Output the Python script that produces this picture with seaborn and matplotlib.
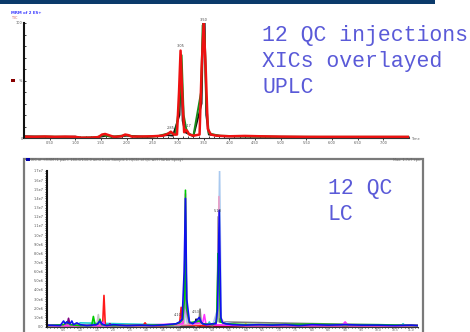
import matplotlib
matplotlib.use("Agg")
import matplotlib.pyplot as plt
import seaborn as sns
from matplotlib.ticker import MultipleLocator

# ---- UPLC panel (relative intensity %, time in min) ----
uplc_red_t = [0.0, 0.2, 0.4, 0.6, 0.8, 1.0, 1.1, 1.3, 1.45, 1.52, 1.58, 1.65, 1.75, 1.9, 1.97, 2.03, 2.1, 2.3, 2.5,
              2.7, 2.8, 2.86, 2.92, 2.98, 3.02, 3.05, 3.08, 3.12, 3.15, 3.18, 3.22, 3.3, 3.42, 3.46, 3.5, 3.54,
              3.58, 3.64, 3.75, 4.0, 4.3, 4.6, 5.0, 5.5, 6.0, 6.5, 7.0, 7.5]
uplc_red_v = [1.2, 1.0, 1.3, 1.0, 1.2, 1.0, 0.3, 0.3, 0.8, 3.0, 3.5, 2.5, 1.0, 1.5, 3.0, 2.5, 1.2, 1.3, 1.5,
              2.0, 3.5, 5.5, 3.0, 3.0, 40.0, 76.0, 40.0, 5.0, 7.0, 6.0, 3.0, 2.0, 3.0, 60.0, 100.0, 60.0,
              8.0, 3.0, 2.0, 1.5, 1.8, 1.5, 1.2, 1.0, 1.0, 1.0, 1.0, 1.0]
uplc_green_t = [0.0, 0.5, 1.0, 1.1, 1.4, 1.55, 1.7, 2.0, 2.2, 2.6, 2.85, 2.95, 3.03, 3.07, 3.11, 3.16, 3.2,
                3.3, 3.45, 3.48, 3.52, 3.55, 3.6, 3.8, 4.2, 5.0, 6.0, 7.0, 7.5]
uplc_green_v = [1.0, 1.2, 0.8, 0.2, 0.5, 2.5, 1.0, 2.5, 1.0, 1.5, 4.5, 3.0, 30.0, 72.0, 20.0, 8.0, 4.0,
                2.0, 40.0, 98.0, 90.0, 30.0, 4.0, 2.0, 1.5, 1.0, 1.0, 1.0, 1.0]
uplc_black_t = [0.0, 0.6, 1.0, 1.1, 1.4, 1.6, 1.8, 2.0, 2.4, 2.8, 2.9, 3.03, 3.06, 3.09, 3.14, 3.3, 3.46,
                3.49, 3.52, 3.55, 3.6, 3.9, 4.5, 5.5, 6.5, 7.5]
uplc_black_v = [1.5, 1.0, 1.2, 0.2, 0.4, 2.0, 1.0, 2.0, 1.0, 2.5, 2.0, 20.0, 65.0, 15.0, 5.0, 1.5, 30.0,
                100.0, 100.0, 20.0, 3.0, 1.5, 1.2, 1.0, 0.8, 0.8]

uplc_xticks = [0.5, 1.0, 1.5, 2.0, 2.5, 3.0, 3.5, 4.0, 4.5, 5.0, 5.5, 6.0, 6.5, 7.0]
uplc_xlabels = ["0.50", "1.00", "1.50", "2.00", "2.50", "3.00", "3.50", "4.00", "4.50", "5.00", "5.50",
                "6.00", "6.50", "7.00"]

# ---- LC panel (intensity in 1e6 cps, time in min) ----
lc_blue_t = [0.0, 0.4, 0.5, 0.55, 0.6, 0.7, 0.75, 0.8, 0.9, 1.0, 1.2, 1.5, 1.6, 1.65, 1.7, 1.8, 2.0, 2.4, 2.8,
             3.2, 3.6, 3.9, 4.0, 4.08, 4.14, 4.18, 4.22, 4.3, 4.4, 4.5, 4.6, 4.65, 4.7, 4.8, 5.0, 5.1, 5.15,
             5.2, 5.25, 5.3, 5.4, 5.6, 6.0, 6.4, 6.8, 7.2, 7.6, 8.0, 8.5, 9.0, 9.5, 10.0, 10.5, 11.0, 11.2]
lc_blue_v = [0.15, 0.1, 0.6, 0.3, 0.5, 0.3, 0.6, 0.2, 0.4, 0.2, 0.1, 0.2, 0.6, 0.3, 0.2, 0.1, 0.2, 0.1, 0.15,
             0.1, 0.2, 0.3, 0.5, 0.8, 6.0, 14.0, 3.0, 0.5, 0.3, 0.6, 1.0, 0.5, 0.3, 0.2, 0.3, 0.3, 2.0,
             12.7, 1.0, 0.4, 0.3, 0.2, 0.15, 0.2, 0.15, 0.2, 0.1, 0.2, 0.15, 0.2, 0.15, 0.15, 0.1, 0.15, 0.1]
lc_green_t = [0.0, 0.5, 0.6, 0.7, 1.0, 1.35, 1.4, 1.45, 1.55, 1.6, 1.65, 2.0, 3.0, 3.8, 4.0, 4.1, 4.15, 4.18,
              4.21, 4.3, 4.6, 4.7, 5.0, 5.12, 5.17, 5.2, 5.24, 5.4, 6.0, 7.0, 8.0, 9.0, 10.0, 11.2]
lc_green_v = [0.1, 0.2, 0.5, 0.2, 0.1, 0.1, 1.1, 0.2, 0.3, 0.8, 0.2, 0.1, 0.15, 0.2, 0.4, 0.8, 3.0, 14.9,
              2.0, 0.4, 0.6, 0.3, 0.2, 0.5, 8.0, 6.0, 0.5, 0.3, 0.2, 0.2, 0.25, 0.2, 0.2, 0.1]
lc_magenta_t = [0.0, 1.0, 1.65, 1.7, 1.75, 2.5, 4.1, 4.15, 4.18, 4.21, 4.3, 4.7, 4.75, 4.8, 6.0, 8.0, 8.9,
                9.0, 9.1, 11.2]
lc_magenta_v = [0.1, 0.1, 0.1, 0.5, 0.1, 0.1, 0.3, 3.0, 14.5, 1.5, 0.3, 0.4, 1.3, 0.2, 0.1, 0.1, 0.1,
                0.5, 0.1, 0.1]
lc_pink_t = [0.0, 3.0, 5.1, 5.16, 5.19, 5.22, 5.4, 11.2]
lc_pink_v = [0.1, 0.1, 0.3, 3.0, 14.2, 1.0, 0.2, 0.1]
lc_red_t = [0.0, 1.6, 1.68, 1.72, 1.76, 2.0, 2.9, 2.96, 3.02, 3.5, 4.0, 4.05, 4.1, 4.6, 6.0, 8.0, 11.2]
lc_red_v = [0.1, 0.1, 0.2, 3.4, 0.1, 0.1, 0.1, 0.4, 0.1, 0.1, 0.2, 2.1, 0.2, 0.1, 0.1, 0.1, 0.1]
lc_lightblue_t = [0.0, 2.0, 4.0, 4.16, 4.19, 4.22, 5.0, 5.16, 5.21, 5.26, 6.0, 11.2]
lc_lightblue_v = [0.1, 0.1, 0.1, 1.0, 5.0, 0.5, 0.1, 2.0, 17.0, 0.5, 0.1, 0.1]
lc_lightgray_t = [0.0, 1.5, 1.55, 1.6, 4.05, 4.1, 4.15, 4.2, 4.24, 6.0, 11.2]
lc_lightgray_v = [0.1, 0.1, 1.3, 0.1, 0.2, 1.9, 0.4, 6.0, 0.3, 0.1, 0.1]
lc_gray_t = [0.0, 4.58, 4.62, 4.66, 5.1, 5.14, 5.17, 5.2, 11.2]
lc_gray_v = [0.1, 0.1, 1.9, 0.1, 0.2, 2.0, 12.0, 0.5, 0.1]
lc_purple_t = [0.0, 0.6, 0.65, 0.7, 1.85, 1.9, 1.95, 11.2]
lc_purple_v = [0.1, 0.1, 0.9, 0.1, 0.1, 0.3, 0.1, 0.1]
lc_yellow_t = [0.0, 5.6, 5.65, 5.7, 5.95, 6.0, 6.05, 7.35, 7.4, 7.45, 11.2]
lc_yellow_v = [0.1, 0.1, 0.4, 0.1, 0.1, 0.3, 0.1, 0.1, 0.3, 0.1, 0.1]
lc_cyan_t = [0.0, 0.9, 1.0, 4.5, 4.85, 4.9, 4.95, 6.1, 7.6, 7.65, 7.7, 10.7, 10.75, 10.8, 11.2]
lc_cyan_v = [0.1, 0.1, 0.4, 0.1, 0.1, 0.5, 0.1, 0.2, 0.1, 0.3, 0.1, 0.1, 0.3, 0.1, 0.1]
lc_black_t = [0.0, 4.45, 4.5, 4.55, 11.2]
lc_black_v = [0.05, 0.05, 0.8, 0.05, 0.05]

lc_xticks = [0.5, 1.0, 1.5, 2.0, 2.5, 3.0, 3.5, 4.0, 4.5, 5.0, 5.5, 6.0, 6.5, 7.0, 7.5, 8.0, 8.5, 9.0, 9.5,
             10.0, 10.5, 11.0]
lc_yticks = list(range(18))
lc_ylabels = ["0.0", "1.0e6", "2.0e6", "3.0e6", "4.0e6", "5.0e6", "6.0e6", "7.0e6", "8.0e6", "9.0e6",
              "1.0e7", "1.1e7", "1.2e7", "1.3e7", "1.4e7", "1.5e7", "1.6e7", "1.7e7"]

W, H = 470, 332


def fx(x):
    return x / W


def fy(y):
    return 1 - y / H


sns.set_style("white")
fig = plt.figure(figsize=(4.7, 3.32), dpi=100)

# header bar and frame of the LC screenshot
fig.add_artist(plt.Rectangle((0, fy(4)), fx(435), 4 / H, transform=fig.transFigure,
                             fc="#0b3a6b", ec="none"))
fig.add_artist(plt.Rectangle((fx(23.5), -0.05), fx(399), fy(158.5) + 0.05, transform=fig.transFigure,
                             fill=False, ec="#7a7a7a", lw=1.6))

tiny = 2.5

# ---- top panel ----
ax1 = fig.add_axes([fx(24), fy(138), fx(385), 115 / H])
for t, v, c, lw in [(uplc_black_t, uplc_black_v, "#111111", 1.3),
                    (uplc_green_t, uplc_green_v, "#1a8a1a", 1.4),
                    (uplc_red_t, uplc_red_v, "#ee1111", 1.8)]:
    sns.lineplot(x=t, y=v, ax=ax1, color=c, lw=lw, estimator=None)
ax1.set_xlim(0, 7.5)
ax1.set_ylim(0, 100)
ax1.set_xticks(uplc_xticks)
ax1.set_xticklabels(uplc_xlabels)
ax1.set_yticks([0, 50, 100])
ax1.set_yticklabels(["0", "%", "100"])
ax1.xaxis.set_minor_locator(MultipleLocator(0.1))
ax1.yaxis.set_minor_locator(MultipleLocator(10))
ax1.tick_params(axis="both", which="both", labelsize=tiny, length=1.5, width=0.6, pad=1,
                direction="in", bottom=True, left=True, colors="#222222", labelcolor="#555555")
ax1.tick_params(axis="x", direction="out")
for s in ["top", "right"]:
    ax1.spines[s].set_visible(False)
ax1.spines["left"].set_linewidth(1.5)
ax1.spines["left"].set_color("#111111")
ax1.spines["bottom"].set_linewidth(0.8)
ax1.spines["bottom"].set_color("#333333")
for tx, ty, s in [(3.05, 78, "3.05"), (3.50, 101, "3.50"), (2.85, 7, "2.85"), (3.18, 9, "3.17")]:
    ax1.text(tx, ty, s, fontsize=tiny, color="#444444", ha="center", va="bottom")
fig.text(fx(411), fy(139), "Time", fontsize=tiny, color="#666666", va="center")
fig.text(fx(11), fy(13), "MRM of 2 ES+", fontsize=2.8, color="#3a3aff", va="center",
         fontweight="bold")
fig.text(fx(12), fy(18), "TIC", fontsize=2.4, color="#cc5555", va="center")
fig.add_artist(plt.Rectangle((fx(11), fy(82)), fx(4), 3 / H, transform=fig.transFigure,
                             fc="#880000", ec="none"))

# ---- bottom panel ----
ax2 = fig.add_axes([fx(47), fy(326.5), fx(371), 155.5 / H])
lc_traces = [(lc_cyan_t, lc_cyan_v, "#22d0d0"),
             (lc_yellow_t, lc_yellow_v, "#e6e600"),
             (lc_purple_t, lc_purple_v, "#800080"),
             (lc_black_t, lc_black_v, "#000000"),
             (lc_lightgray_t, lc_lightgray_v, "#c4c4c4"),
             (lc_gray_t, lc_gray_v, "#7a7a7a"),
             (lc_lightblue_t, lc_lightblue_v, "#a9c9ef"),
             (lc_red_t, lc_red_v, "#ff1a1a"),
             (lc_pink_t, lc_pink_v, "#e8a0c8"),
             (lc_magenta_t, lc_magenta_v, "#ff33ff"),
             (lc_green_t, lc_green_v, "#00cc00"),
             (lc_blue_t, lc_blue_v, "#1010ee")]
for t, v, c in lc_traces:
    sns.lineplot(x=t, y=v, ax=ax2, color=c, lw=1.2, estimator=None)
ax2.set_xlim(0, 11.2)
ax2.set_ylim(0, 17)
ax2.set_xticks(lc_xticks)
ax2.set_xticklabels([f"{x:.1f}" for x in lc_xticks])
ax2.set_yticks(lc_yticks)
ax2.set_yticklabels(lc_ylabels)
ax2.xaxis.set_minor_locator(MultipleLocator(0.1))
ax2.yaxis.set_minor_locator(MultipleLocator(0.25))
ax2.tick_params(axis="both", which="both", labelsize=tiny, length=1.5, width=0.6, pad=1,
                bottom=True, left=True, colors="#222222", labelcolor="#555555")
ax2.tick_params(axis="x", which="both", length=0.8, pad=0.2, labelsize=2.2)
for s in ["top", "right"]:
    ax2.spines[s].set_visible(False)
ax2.spines["left"].set_linewidth(1.5)
ax2.spines["left"].set_color("#111111")
ax2.spines["bottom"].set_linewidth(0.8)
ax2.spines["bottom"].set_color("#333333")
for tx, ty, s in [(5.15, 12.4, "5.18"), (3.95, 1.0, "4.10"), (4.5, 1.4, "4.53")]:
    ax2.text(tx, ty, s, fontsize=tiny, color="#444444", ha="center", va="bottom")
fig.add_artist(plt.Rectangle((fx(26), fy(161)), fx(3.5), 3.5 / H, transform=fig.transFigure,
                             fc="#0000aa", ec="none"))
fig.text(fx(31), fy(159.5),
         "XIC of +MRM (1 pair): 180.0/110.0 amu from Sample 1 (QC1) of QC.wiff (Turbo Spray)",
         fontsize=2.5, color="#666666", va="center")
fig.text(fx(421), fy(159.5), "Max. 1.7e7 cps.", fontsize=2.5, color="#666666", va="center", ha="right")

# annotations in the slide
blue_txt = "#5a5ad8"
mono = ["Liberation Mono", "DejaVu Sans Mono"]
for y, s in [(41.5, "12 QC injections"), (67.5, "XICs overlayed"), (93.5, "UPLC")]:
    fig.text(fx(262), fy(y), s, fontsize=15.5, family=mono, color=blue_txt, va="baseline")
for y, s in [(194, "12 QC"), (220, "LC")]:
    fig.text(fx(328), fy(y), s, fontsize=15.5, family=mono, color=blue_txt, va="baseline")

fig.savefig("out.png", dpi=100)
